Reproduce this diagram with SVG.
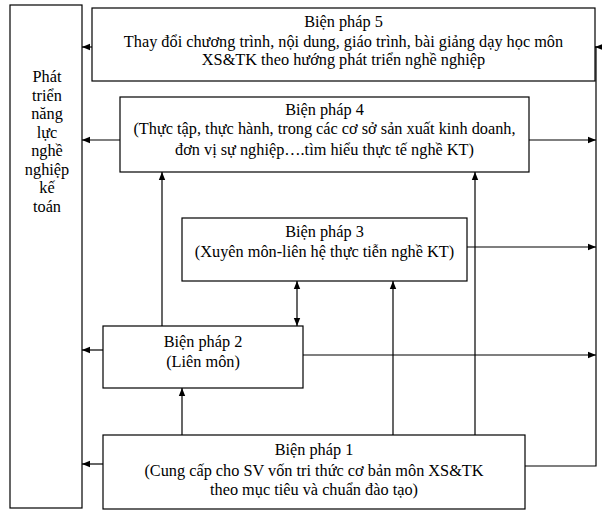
<svg xmlns="http://www.w3.org/2000/svg" width="602" height="511" viewBox="0 0 602 511">
<style>
.box{fill:#fff;stroke:#000;stroke-width:1.2}
.t{font-family:"Liberation Serif","Times New Roman",serif;font-size:16.3px;fill:#000;text-anchor:middle}
.c{fill:none;stroke:#000;stroke-width:1.2}
</style>
<defs>
<marker id="ah" viewBox="0 0 10 10" refX="10" refY="5" markerWidth="8" markerHeight="8" markerUnits="userSpaceOnUse" orient="auto-start-reverse">
<path d="M0,1 L10,5 L0,9 z" fill="#000"/>
</marker>
</defs>
<rect width="602" height="511" fill="#fff"/>
<g id="connectors">
<line class="c" x1="92" y1="47" x2="82" y2="47" marker-end="url(#ah)"/>
<line class="c" x1="120" y1="140" x2="82" y2="140" marker-end="url(#ah)"/>
<line class="c" x1="103" y1="350" x2="82" y2="350" marker-end="url(#ah)"/>
<line class="c" x1="103" y1="464" x2="82" y2="464" marker-end="url(#ah)"/>
<line class="c" x1="529" y1="140" x2="596" y2="140" marker-end="url(#ah)"/>
<line class="c" x1="467" y1="247" x2="596" y2="247" marker-end="url(#ah)"/>
<line class="c" x1="303" y1="355" x2="596" y2="355" marker-end="url(#ah)"/>
<polyline class="c" points="525,466 596,466 596,47 595,47"/>
<line class="c" x1="604" y1="47" x2="595" y2="47" marker-end="url(#ah)"/>
<line class="c" x1="162" y1="326" x2="162" y2="172" marker-end="url(#ah)"/>
<line class="c" x1="475" y1="435" x2="475" y2="172" marker-end="url(#ah)"/>
<line class="c" x1="393" y1="435" x2="393" y2="281" marker-end="url(#ah)"/>
<line class="c" x1="297" y1="281" x2="297" y2="326" marker-start="url(#ah)" marker-end="url(#ah)"/>
<line class="c" x1="182" y1="435" x2="182" y2="388" marker-end="url(#ah)"/>
</g>
<g id="goal">
<rect class="box" x="10" y="5" width="72" height="503"/>
<text class="t" x="47" y="82">Phát</text>
<text class="t" x="47" y="100.5">triển</text>
<text class="t" x="47" y="119">năng</text>
<text class="t" x="47" y="137.5">lực</text>
<text class="t" x="47" y="156">nghề</text>
<text class="t" x="47" y="174.5">nghiệp</text>
<text class="t" x="47" y="193">kế</text>
<text class="t" x="47" y="211.5">toán</text>
</g>
<g id="bp5">
<rect class="box" x="92" y="8" width="503" height="73"/>
<text class="t" x="343.5" y="27">Biện pháp 5</text>
<text class="t" x="343.5" y="47">Thay đổi chương trình, nội dung, giáo trình, bài giảng dạy học môn</text>
<text class="t" x="343.5" y="65">XS&amp;TK theo hướng phát triển nghề nghiệp</text>
</g>
<g id="bp4">
<rect class="box" x="120" y="97" width="409" height="75"/>
<text class="t" x="324.5" y="115">Biện pháp 4</text>
<text class="t" x="324.5" y="134">(Thực tập, thực hành, trong các cơ sở sản xuất kinh doanh,</text>
<text class="t" x="324.5" y="155">đơn vị sự nghiệp….tìm hiểu thực tế nghề KT)</text>
</g>
<g id="bp3">
<rect class="box" x="182" y="218" width="285" height="63"/>
<text class="t" x="324.5" y="237">Biện pháp 3</text>
<text class="t" x="324.5" y="257">(Xuyên môn-liên hệ thực tiễn nghề KT)</text>
</g>
<g id="bp2">
<rect class="box" x="103" y="326" width="200" height="62"/>
<text class="t" x="203" y="347">Biện pháp 2</text>
<text class="t" x="203" y="367">(Liên môn)</text>
</g>
<g id="bp1">
<rect class="box" x="103" y="435" width="422" height="74"/>
<text class="t" x="314" y="455">Biện pháp 1</text>
<text class="t" x="314" y="476">(Cung cấp cho SV vốn tri thức cơ bản môn XS&amp;TK</text>
<text class="t" x="314" y="495">theo mục tiêu và chuẩn đào tạo)</text>
</g>
</svg>
